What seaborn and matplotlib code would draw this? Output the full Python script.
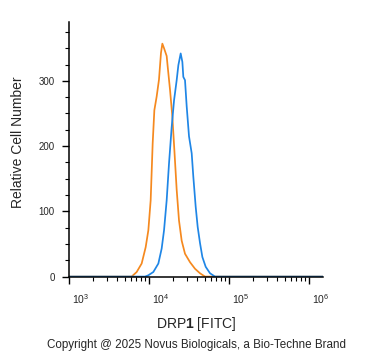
import numpy as np
import pandas as pd
import seaborn as sns
import matplotlib.pyplot as plt
from matplotlib.ticker import FixedLocator, LogLocator, NullFormatter
from matplotlib.transforms import ScaledTranslation

# isotype control (orange) - log10 intensity and cell counts
iso_log = [3.0, 3.70, 3.7875, 3.85, 3.9125, 3.9625, 3.996, 4.025, 4.05, 4.071, 4.10,
           4.129, 4.154, 4.171, 4.192, 4.225, 4.2375, 4.267, 4.296, 4.321,
           4.35, 4.379, 4.4125, 4.454, 4.517, 4.579, 4.642, 4.704, 4.80, 6.18]
iso_count = [0, 0, 0, 7, 20, 45, 71, 117, 204, 255, 276,
             302, 343, 357, 350, 338, 322, 286, 245, 194,
             133, 86, 55, 35, 22, 12, 5, 0, 0, 0]

# DRP1 stained (blue)
drp_log = [3.0, 3.90, 3.954, 3.996, 4.058, 4.121, 4.1625, 4.192, 4.225, 4.254, 4.2875,
           4.317, 4.35, 4.371, 4.40, 4.421, 4.433, 4.454, 4.475, 4.504,
           4.5375, 4.558, 4.5875, 4.6125, 4.642, 4.671, 4.7125, 4.767, 4.829, 4.90, 6.18]
drp_count = [0, 0, 0, 2, 7, 20, 43, 71, 117, 173, 229,
             270, 301, 324, 342, 329, 306, 301, 261, 215,
             189, 153, 107, 76, 51, 30, 15, 5, 0, 0, 0]

y_major = [0, 100, 200, 300]
x_decades = [3, 4, 5, 6]

df = pd.concat([
    pd.DataFrame({'intensity': 10 ** np.array(iso_log), 'count': iso_count, 'sample': 'isotype'}),
    pd.DataFrame({'intensity': 10 ** np.array(drp_log), 'count': drp_count, 'sample': 'DRP1'}),
])

sns.set_style("ticks")
plt.rcParams['font.family'] = ['Liberation Sans', 'DejaVu Sans']
plt.rcParams['mathtext.fontset'] = 'custom'
plt.rcParams['mathtext.rm'] = 'Liberation Sans'
plt.rcParams['mathtext.it'] = 'Liberation Sans:italic'
plt.rcParams['mathtext.bf'] = 'Liberation Sans:bold'

fig = plt.figure(figsize=(3.71, 3.51), dpi=100)
ax = fig.add_axes([0.185, 0.212, 0.686, 0.725])

sns.lineplot(data=df, x='intensity', y='count', hue='sample',
             palette={'isotype': '#F5891F', 'DRP1': '#1F86E6'},
             estimator=None, sort=False, linewidth=1.25, legend=False, ax=ax)

ax.set_xscale('log')
ax.set_xlim(10 ** 3, 10 ** 6.18)
ax.set_ylim(0, 390)

sns.despine(ax=ax)
for s in ['left', 'bottom']:
    ax.spines[s].set_linewidth(1.1)
    ax.spines[s].set_color('black')
    ax.spines[s].set_zorder(5)

# y ticks
ax.yaxis.set_major_locator(FixedLocator(y_major))
ax.yaxis.set_minor_locator(FixedLocator(np.arange(0, 390, 25)))
ax.set_yticklabels([str(v) for v in y_major], fontsize=7)
ax.tick_params(axis='y', which='major', length=5, width=1.0, pad=5, color='black')
ax.tick_params(axis='y', which='minor', length=3, width=0.8, color='black')

# x ticks
ax.xaxis.set_major_locator(FixedLocator([10 ** d for d in x_decades]))
ax.xaxis.set_minor_locator(LogLocator(base=10, subs=np.arange(2, 10)))
ax.xaxis.set_minor_formatter(NullFormatter())
ax.set_xticklabels([r'$10^{%d}$' % d for d in x_decades], fontsize=7.5)
ax.tick_params(axis='x', which='major', length=5, width=1.0, pad=6, color='black')
ax.tick_params(axis='x', which='minor', length=3, width=0.8, color='black')
offset = ScaledTranslation(0.035, 0, fig.dpi_scale_trans)
for lbl in ax.get_xticklabels():
    lbl.set_horizontalalignment('left')
    lbl.set_transform(lbl.get_transform() + offset)

ax.set_xlabel(r'DRP$\mathbf{1}$ [FITC]', fontsize=10, labelpad=7)
ax.set_ylabel('Relative Cell Number', fontsize=10, labelpad=10)
ax.yaxis.set_label_coords(-0.17, 0.53)

fig.text(0.53, 0.0, 'Copyright @ 2025 Novus Biologicals, a Bio-Techne Brand',
         ha='center', va='bottom', fontsize=8.4)

fig.savefig('out.png', dpi=100)
